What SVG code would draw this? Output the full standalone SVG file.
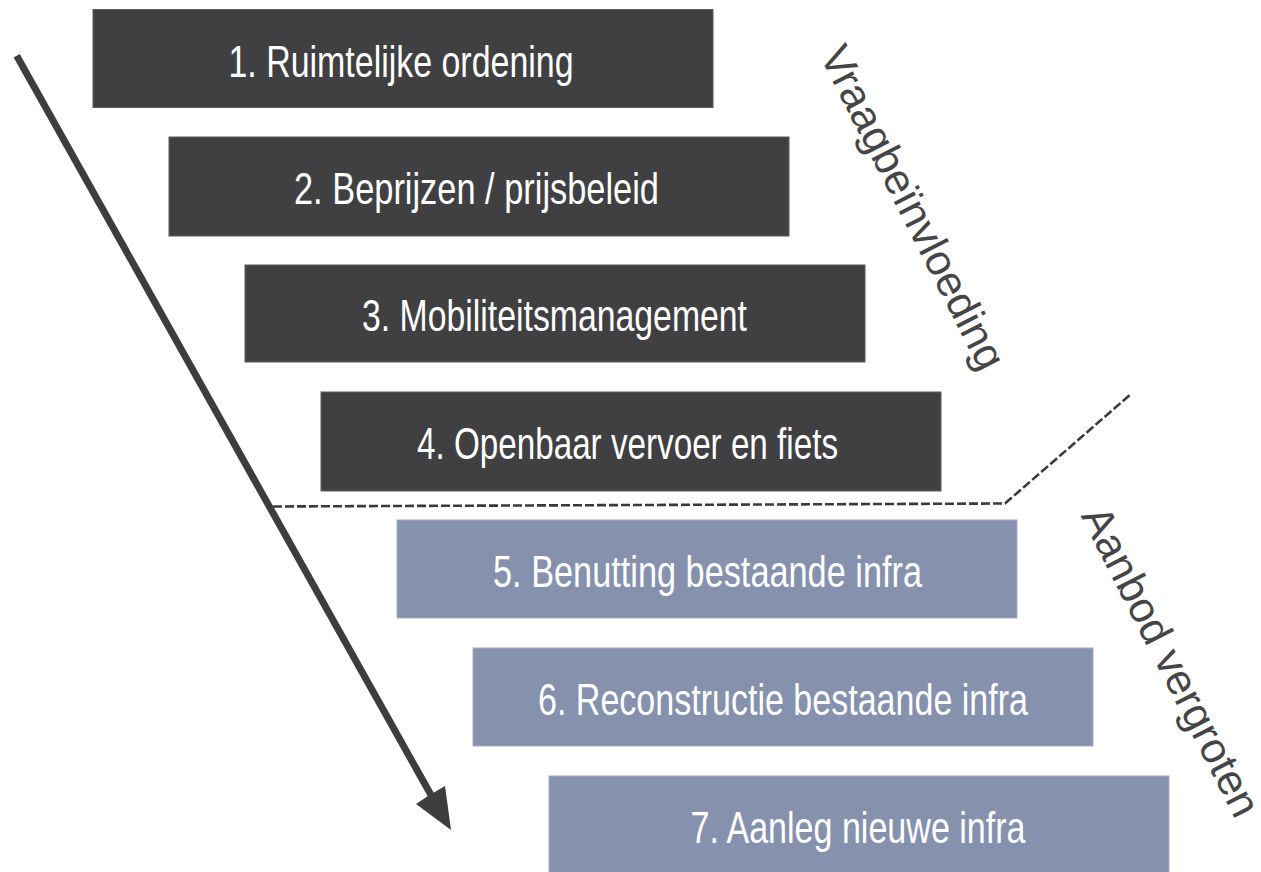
<svg xmlns="http://www.w3.org/2000/svg" width="1261" height="872" viewBox="0 0 1261 872">
<style>
.dark{fill:#404042;stroke:#5c5c5e;stroke-width:1}
.blue{fill:#8591ad;stroke:#a3adc3;stroke-width:1}
.lbl{font-family:"Liberation Sans",Arial,sans-serif;font-size:45px;fill:#ffffff;text-anchor:middle}
.side{font-family:"Liberation Sans",Arial,sans-serif;font-size:43px;fill:#454547;text-anchor:middle}
</style>
<rect width="1261" height="872" fill="#ffffff"/>
<g id="connectors">
<line x1="16.7" y1="55.7" x2="431" y2="795" stroke="#3d3d3f" stroke-width="7"/>
<polygon points="451,830 416,804 428,796 445,786" fill="#3d3d3f"/>
<polyline points="273,506.5 1005,503.5 1131,394" fill="none" stroke="#3a3a3a" stroke-width="2.6" stroke-dasharray="9,3"/>
</g>
<g id="node1"><rect class="dark" x="93" y="9.5" width="620" height="98"/><text class="lbl" x="401" y="76.5" textLength="345" lengthAdjust="spacingAndGlyphs">1. Ruimtelijke ordening</text></g>
<g id="node2"><rect class="dark" x="169" y="137" width="620" height="99"/><text class="lbl" x="476.5" y="204" textLength="365" lengthAdjust="spacingAndGlyphs">2. Beprijzen / prijsbeleid</text></g>
<g id="node3"><rect class="dark" x="245" y="265" width="620" height="97"/><text class="lbl" x="554.5" y="331" textLength="385" lengthAdjust="spacingAndGlyphs">3. Mobiliteitsmanagement</text></g>
<g id="node4"><rect class="dark" x="321" y="392" width="620" height="99"/><text class="lbl" x="627.5" y="459" textLength="421" lengthAdjust="spacingAndGlyphs">4. Openbaar vervoer en fiets</text></g>
<g id="node5"><rect class="blue" x="397" y="520" width="620" height="98"/><text class="lbl" x="707.5" y="587" textLength="429" lengthAdjust="spacingAndGlyphs">5. Benutting bestaande infra</text></g>
<g id="node6"><rect class="blue" x="473" y="648" width="620" height="98"/><text class="lbl" x="783" y="715" textLength="490" lengthAdjust="spacingAndGlyphs">6. Reconstructie bestaande infra</text></g>
<g id="node7"><rect class="blue" x="549" y="776" width="620" height="100"/><text class="lbl" x="858" y="843" textLength="335" lengthAdjust="spacingAndGlyphs">7. Aanleg nieuwe infra</text></g>
<text class="side" transform="translate(900,214) rotate(63)">Vraagbeïnvloeding</text>
<text class="side" transform="translate(1158,668) rotate(63)">Aanbod vergroten</text>
</svg>
